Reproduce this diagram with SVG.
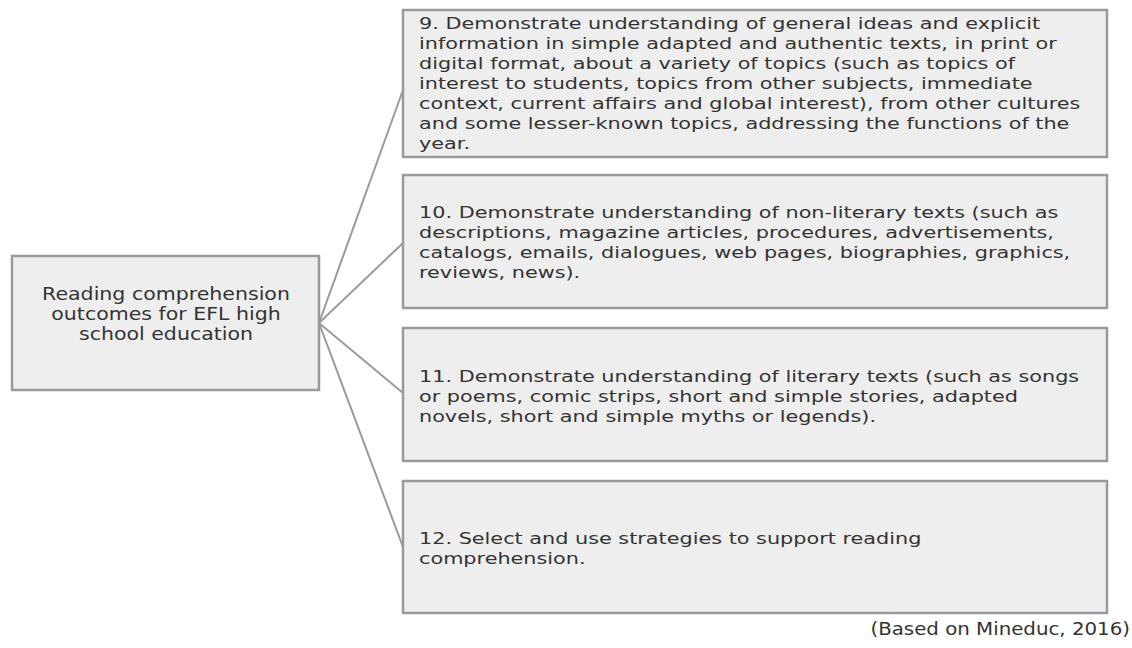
<svg xmlns="http://www.w3.org/2000/svg" width="1132" height="648" viewBox="0 0 1132 648">
<style>
.box{fill:#eeeeee;stroke:#9a9a9a;stroke-width:2.5}
.t{font-family:"DejaVu Sans","Verdana",sans-serif;font-size:16.5px;fill:#333333}
.hub{font-family:"DejaVu Sans","Verdana",sans-serif;font-size:18px;fill:#333333;text-anchor:middle}
.foot{font-family:"DejaVu Sans","Verdana",sans-serif;font-size:18px;fill:#333333;text-anchor:end}
.c{stroke:#9a9a9a;stroke-width:2;fill:none}
</style>
<rect width="1132" height="648" fill="#ffffff"/>
<g id="connectors">
<line class="c" x1="319" y1="323" x2="403" y2="90"/>
<line class="c" x1="319" y1="323" x2="403" y2="243"/>
<line class="c" x1="319" y1="323" x2="403" y2="393"/>
<line class="c" x1="319" y1="323" x2="403" y2="547"/>
</g>
<g id="root">
<rect class="box" x="12" y="256" width="307" height="134"/>
<g transform="translate(166 0) scale(1.14 1)">
<text class="hub" x="0" y="300">Reading comprehension</text>
<text class="hub" x="0" y="320">outcomes for EFL high</text>
<text class="hub" x="0" y="340">school education</text>
</g>
</g>
<g id="n9">
<rect class="box" x="403" y="10" width="704" height="147"/>
<g transform="translate(419 0) scale(1.26 1)">
<text class="t" x="0" y="29">9. Demonstrate understanding of general ideas and explicit</text>
<text class="t" x="0" y="49">information in simple adapted and authentic texts, in print or</text>
<text class="t" x="0" y="69">digital format, about a variety of topics (such as topics of</text>
<text class="t" x="0" y="89">interest to students, topics from other subjects, immediate</text>
<text class="t" x="0" y="109">context, current affairs and global interest), from other cultures</text>
<text class="t" x="0" y="129">and some lesser-known topics, addressing the functions of the</text>
<text class="t" x="0" y="149">year.</text>
</g>
</g>
<g id="n10">
<rect class="box" x="403" y="175" width="704" height="133"/>
<g transform="translate(419 0) scale(1.26 1)">
<text class="t" x="0" y="218">10. Demonstrate understanding of non-literary texts (such as</text>
<text class="t" x="0" y="238">descriptions, magazine articles, procedures, advertisements,</text>
<text class="t" x="0" y="258">catalogs, emails, dialogues, web pages, biographies, graphics,</text>
<text class="t" x="0" y="278">reviews, news).</text>
</g>
</g>
<g id="n11">
<rect class="box" x="403" y="328" width="704" height="133"/>
<g transform="translate(419 0) scale(1.26 1)">
<text class="t" x="0" y="382">11. Demonstrate understanding of literary texts (such as songs</text>
<text class="t" x="0" y="402">or poems, comic strips, short and simple stories, adapted</text>
<text class="t" x="0" y="422">novels, short and simple myths or legends).</text>
</g>
</g>
<g id="n12">
<rect class="box" x="403" y="481" width="704" height="132"/>
<g transform="translate(419 0) scale(1.26 1)">
<text class="t" x="0" y="544">12. Select and use strategies to support reading</text>
<text class="t" x="0" y="564">comprehension.</text>
</g>
</g>
<g id="source" transform="translate(1130 0) scale(1.1 1)">
<text class="foot" x="0" y="635">(Based on Mineduc, 2016)</text>
</g>
</svg>
